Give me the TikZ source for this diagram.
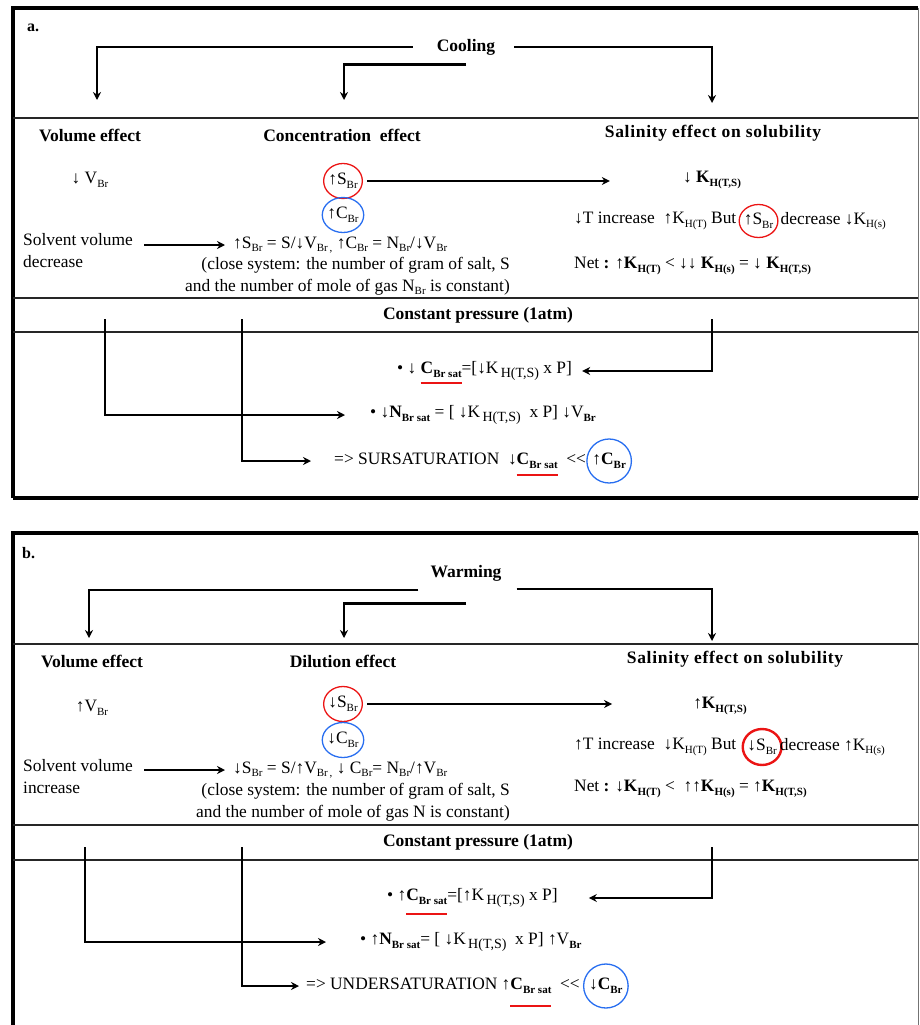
\documentclass[tikz,border=0pt]{standalone}
\usepackage{fontspec}
\setmainfont{Liberation Serif}
\usetikzlibrary{positioning,shapes.geometric,arrows.meta}
\definecolor{circred}{RGB}{235,20,20}
\definecolor{circblue}{RGB}{40,110,240}
\newcommand{\sub}[1]{\raisebox{-0.45ex}{\fontsize{11}{11}\selectfont #1}}
\newcommand{\bsub}[1]{\raisebox{-0.45ex}{\fontsize{11}{11}\selectfont\bfseries #1}}
\newcommand{\msub}[1]{\raisebox{-0.4ex}{\fontsize{14}{14}\selectfont\,#1}}
\newcommand{\redul}[2][8pt]{\setbox0\hbox{#2}\rlap{\smash{\color{circred}\rule[-#1]{\wd0}{2.4pt}}}\box0}

\begin{document}
\begin{tikzpicture}[x=1pt,y=-1pt,
    txt/.style={inner sep=1pt,font=\fontsize{17.4}{22}\selectfont},
    head/.style={inner sep=1pt,font=\fontsize{17.5}{22}\selectfont\bfseries},
    wide/.style={head,font=\fontsize{17.5}{22}\selectfont\bfseries\addfontfeature{LetterSpace=4}},
    arr/.style={line width=2.8pt,-{Stealth[length=8pt,width=8pt]}},
    sep/.style={line width=1.8pt,draw=black!85},
    frame/.style={line width=3.2pt},
    redring/.style={ellipse,draw=circred,line width=1.3pt,inner sep=-1pt,minimum width=38pt,minimum height=35pt},
    bluering/.style={redring,draw=circblue},
  ]
  \useasboundingbox (0,0) rectangle (919,1025);

  % a. cooling
  \draw[frame] (13,498) -- (13,8) -- (918,8);
  \draw[frame] (13,498) -- (918,498);
  \draw[line width=1pt,black!55] (918,8) -- (918,498);

  \node[head,anchor=west,font=\fontsize{16}{18}\selectfont\bfseries] (labA) at (26,28) {a.};
  \node[head] (coolA) at (466,47) {Cooling};
  \coordinate (inVolA) at (97,100);
  \coordinate (inConcA) at (344,100);
  \coordinate (inSalA) at (712,103);
  \draw[arr,shorten <=23pt] (coolA.west) -| (inVolA);
  \draw[arr] ([yshift=-8pt]coolA.south) -| (inConcA);
  \draw[arr,shorten <=18pt] (coolA.east) -| (inSalA);

  \draw[sep] (13,118) -- (918,118);
  \node[head] (volA) at (90,135) {Volume effect};
  \node[head] (concA) at (342,135) {Concentration\ \ effect};
  \node[wide] (salA) at (713,133) {Salinity effect on solubility};

  \node[txt] (vbrA) at (90,180) {↓ V\sub{Br}};
  \node[txt,redring] (sA) at (343,181) {↑S\sub{Br}};
  \node[txt,bluering] (cA) at (343,215) {↑C\sub{Br}};
  \node[txt,font=\fontsize{17.4}{22}\selectfont\bfseries] (kA) at (712,180) {↓ K\bsub{H(T,S)}};
  \draw[arr,shorten <=4pt,shorten >=72pt] (sA.east) -- (sA.east -| kA.west);

  \node[txt,anchor=west,align=left] (solvA) at (22,251) {Solvent volume\\decrease};
  \node[txt,anchor=west] (eqA) at (232,245) {↑S\sub{Br} = S/↓V\sub{Br\,,} ↑C\sub{Br} = N\sub{Br}/↓V\sub{Br}};
  \draw[arr,shorten <=10pt,shorten >=7pt] (solvA.east |- eqA.west) -- (eqA.west);
  \node[txt,anchor=east,align=right] (closA) at (511,276) {(close system: the number of gram of salt, S\\and the number of mole of gas N\sub{Br} is constant)};

  \node[txt,anchor=west] (tA) at (573,221) {↓T increase\ \ ↑K\sub{H(T)} But};
  \node[txt,redring,minimum width=36pt,minimum height=33pt,right=1pt of tA] (sbA) {↑S\sub{Br}};
  \node[txt,right=1pt of sbA] (dA) {decrease ↓K\sub{H(s)}};
  \node[txt,anchor=west] (netA) at (573,266) {Net \textbf{: ↑K\bsub{H(T)}} < ↓↓ \textbf{K\bsub{H(s)}} = ↓ \textbf{K\bsub{H(T,S)}}};

  \draw[sep] (13,298) -- (918,298);
  \node[head] (presA) at (478,315) {Constant pressure (1atm)};
  \draw[sep] (13,332) -- (918,332);

  \node[txt,anchor=west] (csatA) at (396,371) {• ↓ \redul[10pt]{\textbf{C\bsub{Br sat}}} =[↓K\msub{H(T,S)} x P]};
  \node[txt,anchor=west] (nsatA) at (369,415) {• ↓\textbf{N\bsub{Br sat}} = [ ↓K\msub{H(T,S)}\ \ x P] ↓V\bsub{Br}};
  \node[txt,anchor=west] (surA) at (333,461) {=> SURSATURATION\ \ ↓\redul[11pt]{\textbf{C\bsub{Br sat}}}\ \ <{}<};
  \node[txt,bluering,minimum width=44pt,minimum height=44pt,right=-1pt of surA] (ringA) {↑\textbf{C\bsub{Br}}};

  \coordinate (vA0) at (105,319);
  \coordinate (cA0) at (242,319);
  \coordinate (kA0) at (712,319);
  \draw[arr,shorten >=24pt] (vA0) |- (nsatA.west);
  \draw[arr,shorten >=22pt] (cA0) |- (surA.west);
  \draw[arr,shorten >=9pt] (kA0) |- (csatA.east);

  % b. warming
  \draw[frame] (13,1025) -- (13,533) -- (918,533);
  \draw[line width=1pt,black!55] (918,533) -- (918,1025);

  \node[head,anchor=west,font=\fontsize{16}{18}\selectfont\bfseries] (labB) at (21,553) {b.};
  \node[head] (warmB) at (466,573) {Warming};
  \coordinate (inVolB) at (89,638);
  \coordinate (inDilB) at (344,638);
  \coordinate (inSalB) at (712,641);
  \draw[arr] ([xshift=-11pt,yshift=-17pt]warmB.west) -| (inVolB);
  \draw[arr] ([yshift=-21pt]warmB.south) -| (inDilB);
  \draw[arr] ([xshift=14pt,yshift=-16pt]warmB.east) -| (inSalB);

  \draw[sep] (13,644) -- (918,644);
  \node[head] (volB) at (92,661) {Volume effect};
  \node[head] (dilB) at (343,661) {Dilution effect};
  \node[wide] (salB) at (735,659) {Salinity effect on solubility};

  \node[txt] (vbrB) at (92,708) {↑V\sub{Br}};
  \node[txt,redring] (sB) at (343,704) {↓S\sub{Br}};
  \node[txt,bluering] (cB) at (343,740) {↓C\sub{Br}};
  \node[txt,font=\fontsize{17.4}{22}\selectfont\bfseries] (kB) at (720,706) {↑K\bsub{H(T,S)}};
  \draw[arr,shorten <=4pt,shorten >=80pt] (sB.east) -- (sB.east -| kB.west);

  \node[txt,anchor=west,align=left] (solvB) at (22,777) {Solvent volume\\increase};
  \node[txt,anchor=west] (eqB) at (232,770) {↓S\sub{Br} = S/↑V\sub{Br\,,} ↓ C\sub{Br}= N\sub{Br}/↑V\sub{Br}};
  \draw[arr,shorten <=10pt,shorten >=7pt] (solvB.east |- eqB.west) -- (eqB.west);
  \node[txt,anchor=east,align=right] (closB) at (511,802) {(close system: the number of gram of salt, S\\and the number of mole of gas N is constant)};

  \node[txt,anchor=west] (tB) at (573,747) {↑T increase\ \ ↓K\sub{H(T)} But};
  \node[txt,redring,line width=2.4pt,minimum width=38pt,minimum height=36pt,right=4pt of tB] (sbB) {↓S\sub{Br}};
  \node[txt,right=-4pt of sbB] (dB) {decrease ↑K\sub{H(s)}};
  \node[txt,anchor=west] (netB) at (573,789) {Net \textbf{: ↓K\bsub{H(T)}} <\ \ ↑↑\textbf{K\bsub{H(s)}} = ↑\textbf{K\bsub{H(T,S)}}};

  \draw[sep] (13,825) -- (918,825);
  \node[head] (presB) at (478,842) {Constant pressure (1atm)};
  \draw[sep] (13,860) -- (918,860);

  \node[txt,anchor=west] (csatB) at (386,898) {• ↑\redul[14pt]{\textbf{C\bsub{Br sat}}} =[↑K\msub{H(T,S)} x P]};
  \node[txt,anchor=west] (nsatB) at (359,942) {• ↑\textbf{N\bsub{Br sat}}= [ ↓K\msub{H(T,S)}\ \ x P] ↑V\bsub{Br}};
  \node[txt,anchor=west] (undB) at (305,986) {=> UNDERSATURATION ↑\redul[17pt]{\textbf{C\bsub{Br sat}}}\ \ <{}<};
  \node[txt,bluering,minimum width=38pt,minimum height=44pt,right=2pt of undB] (ringB) {↓\textbf{C\bsub{Br}}};

  \coordinate (vB0) at (85,847);
  \coordinate (cB0) at (242,847);
  \coordinate (kB0) at (712,847);
  \draw[arr,shorten >=33pt] (vB0) |- (nsatB.west);
  \draw[arr,shorten >=6pt] (cB0) |- (undB.west);
  \draw[arr,shorten >=30pt] (kB0) |- (csatB.east);
\end{tikzpicture}
\end{document}
